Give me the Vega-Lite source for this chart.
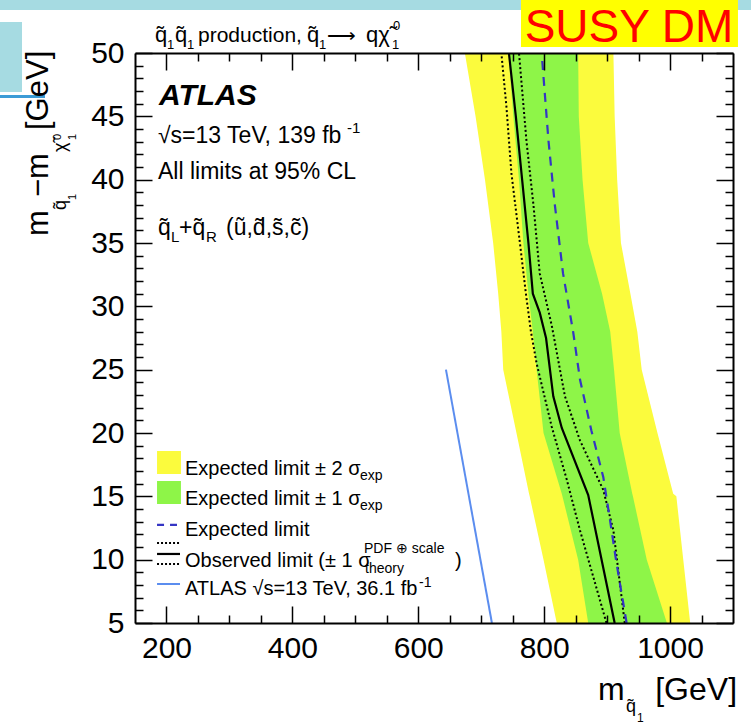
{
  "$schema": "https://vega.github.io/schema/vega-lite/v6.json",
  "width": 598,
  "height": 570,
  "autosize": "none",
  "padding": {"left": 135, "top": 53, "right": 18, "bottom": 102},
  "background": "white",
  "config": {"view": {"stroke": null}, "font": "Liberation Sans"},
  "datasets": {
    "band": [
      {"y": 50, "yl": 674, "gl": 743, "gh": 854, "yh": 910},
      {"y": 45, "yl": 691, "gl": 751, "gh": 855, "yh": 912},
      {"y": 40, "yl": 706, "gl": 760, "gh": 861, "yh": 916},
      {"y": 35, "yl": 719, "gl": 767, "gh": 870, "yh": 922},
      {"y": 31, "yl": 727, "gl": 775, "gh": 892, "yh": 937},
      {"y": 28, "yl": 732, "gl": 782, "gh": 905, "yh": 948},
      {"y": 25, "yl": 735, "gl": 788, "gh": 911, "yh": 955},
      {"y": 20, "yl": 756, "gl": 799, "gh": 920, "yh": 980},
      {"y": 15.2, "yl": 776, "gl": 828, "gh": 940, "yh": 1005},
      {"y": 15, "yl": 777, "gl": 829, "gh": 941, "yh": 1010},
      {"y": 10, "yl": 799, "gl": 854, "gh": 963, "yh": 1021},
      {"y": 5, "yl": 820, "gl": 870, "gh": 995, "yh": 1032}
    ],
    "lines": [
      {"s": "obs", "x": 744, "y": 50}, {"s": "obs", "x": 755, "y": 45}, {"s": "obs", "x": 765, "y": 40},
      {"s": "obs", "x": 775, "y": 35}, {"s": "obs", "x": 782, "y": 31}, {"s": "obs", "x": 793, "y": 29.5},
      {"s": "obs", "x": 803, "y": 27.5}, {"s": "obs", "x": 814.5, "y": 22.9}, {"s": "obs", "x": 828, "y": 20.4},
      {"s": "obs", "x": 870, "y": 15.1}, {"s": "obs", "x": 912, "y": 5},
      {"s": "lo", "x": 732, "y": 50}, {"s": "lo", "x": 740, "y": 45.8}, {"s": "lo", "x": 748, "y": 40.5},
      {"s": "lo", "x": 761, "y": 35.2}, {"s": "lo", "x": 771, "y": 31}, {"s": "lo", "x": 779, "y": 28},
      {"s": "lo", "x": 788, "y": 25.5}, {"s": "lo", "x": 812, "y": 20.5}, {"s": "lo", "x": 836, "y": 16.3},
      {"s": "lo", "x": 857, "y": 12.3}, {"s": "lo", "x": 899, "y": 5},
      {"s": "hi", "x": 760, "y": 50}, {"s": "hi", "x": 772, "y": 43}, {"s": "hi", "x": 783, "y": 38},
      {"s": "hi", "x": 793, "y": 32.6}, {"s": "hi", "x": 812, "y": 28.5}, {"s": "hi", "x": 833, "y": 22.9},
      {"s": "hi", "x": 857, "y": 19.4}, {"s": "hi", "x": 894, "y": 15.5}, {"s": "hi", "x": 910, "y": 12.3},
      {"s": "hi", "x": 928, "y": 5},
      {"s": "exp", "x": 796, "y": 50}, {"s": "exp", "x": 807, "y": 43}, {"s": "exp", "x": 817, "y": 38},
      {"s": "exp", "x": 830, "y": 32.6}, {"s": "exp", "x": 846, "y": 28}, {"s": "exp", "x": 857, "y": 24.2},
      {"s": "exp", "x": 875, "y": 20.2}, {"s": "exp", "x": 894, "y": 16.5}, {"s": "exp", "x": 905, "y": 13},
      {"s": "exp", "x": 915, "y": 9.7}, {"s": "exp", "x": 931, "y": 5},
      {"s": "old", "x": 644, "y": 25}, {"s": "old", "x": 717, "y": 5}
    ],
    "legbox": [
      {"s": "y2", "x": 185, "x2": 223, "y": 18.58, "y2": 16.76},
      {"s": "g1", "x": 185, "x2": 223, "y": 16.21, "y2": 14.39}
    ],
    "legline": [
      {"s": "exp", "x": 185, "x2": 216.7, "y": 12.74},
      {"s": "lo", "x": 185, "x2": 221.5, "y": 11.32},
      {"s": "obs", "x": 185, "x2": 221.5, "y": 10.45},
      {"s": "lo", "x": 185, "x2": 221.5, "y": 9.66},
      {"s": "old", "x": 185, "x2": 221.5, "y": 8.08}
    ],
    "deco": [
      {"s": "cyan", "x": -64.5, "x2": 1128.6, "y": 54.18, "y2": 53.4},
      {"s": "cyan", "x": -64.5, "x2": -29.5, "y": 52.45, "y2": 46.92},
      {"s": "blue", "x": -64.5, "x2": 7.0, "y": 46.68, "y2": 46.45},
      {"s": "box", "x": 763.2, "x2": 1107.9, "y": 54.18, "y2": 50.47}
    ],
    "txt": [
      {"g": "t22", "t": "q\u0303", "x": 181.8, "y": 50.87},
      {"g": "t22", "t": "q\u0303", "x": 213.5, "y": 50.87},
      {"g": "t21", "t": "production,", "x": 250.1, "y": 50.87},
      {"g": "t22", "t": "q\u0303", "x": 423.2, "y": 50.87},
      {"g": "leg", "t": "\u27f6", "x": 455.0, "y": 50.87},
      {"g": "t22", "t": "q\u03c7\u0303", "x": 517.0, "y": 50.87},
      {"g": "t13", "t": "1", "x": 200.8, "y": 50.32},
      {"g": "t13", "t": "1", "x": 232.6, "y": 50.32},
      {"g": "t13", "t": "1", "x": 442.3, "y": 50.32},
      {"g": "t13", "t": "1", "x": 558.3, "y": 50.32},
      {"g": "t13", "t": "0", "x": 559.9, "y": 51.82},
      {"g": "atlas", "t": "ATLAS", "x": 188.1, "y": 45.89},
      {"g": "t23", "t": "\u221as=13 TeV, 139 fb", "x": 186.5, "y": 42.89},
      {"g": "t23", "t": "All limits at 95% CL", "x": 186.5, "y": 40.05},
      {"g": "t23", "t": "q\u0303", "x": 186.5, "y": 35.63},
      {"g": "t23", "t": "+q\u0303", "x": 219.9, "y": 35.63},
      {"g": "t23", "t": "(u\u0303,d\u0303,s\u0303,c\u0303)", "x": 294.6, "y": 35.63},
      {"g": "s15", "t": "-1", "x": 486.8, "y": 43.68},
      {"g": "s15", "t": "L", "x": 207.2, "y": 35.08},
      {"g": "s15", "t": "R", "x": 262.8, "y": 35.08},
      {"g": "leg", "t": "Expected limit \u00b1 2 \u03c3", "x": 229.4, "y": 16.68},
      {"g": "leg", "t": "Expected limit \u00b1 1 \u03c3", "x": 229.4, "y": 14.32},
      {"g": "leg", "t": "Expected limit", "x": 229.4, "y": 11.87},
      {"g": "leg", "t": "Observed limit (\u00b1 1 \u03c3", "x": 229.4, "y": 9.42},
      {"g": "leg", "t": ")", "x": 658.3, "y": 9.42},
      {"g": "leg", "t": "ATLAS \u221as=13 TeV, 36.1 fb", "x": 229.4, "y": 7.21},
      {"g": "ls", "t": "exp", "x": 507.4, "y": 16.29},
      {"g": "ls", "t": "exp", "x": 507.4, "y": 13.92},
      {"g": "ls", "t": "PDF \u2295 scale", "x": 513.8, "y": 10.53},
      {"g": "ls", "t": "theory", "x": 515.4, "y": 8.95},
      {"g": "ls", "t": "-1", "x": 601.2, "y": 7.84},
      {"g": "x32", "t": "m", "x": 885.5, "y": -1.08},
      {"g": "x32r", "t": "[GeV]", "x": 1106.4, "y": -1.08},
      {"g": "xs18", "t": "q\u0303", "x": 929.9, "y": -2.03},
      {"g": "xs12", "t": "1", "x": 947.4, "y": -2.82},
      {"g": "y31", "t": "m", "x": 11.8, "y": 35.55},
      {"g": "y31", "t": "\u2212m", "x": 11.8, "y": 38.63},
      {"g": "y31", "t": "[GeV]", "x": 11.8, "y": 43.92},
      {"g": "ys18", "t": "q\u0303", "x": 40.4, "y": 37.61},
      {"g": "ys18", "t": "\u03c7\u0303", "x": 40.4, "y": 42.18},
      {"g": "ys11", "t": "1", "x": 56.3, "y": 38.39},
      {"g": "ys11", "t": "1", "x": 56.3, "y": 43.13},
      {"g": "ys11", "t": "0", "x": 32.4, "y": 43.13},
      {"g": "susy", "t": "SUSY DM", "x": 934.8, "y": 50.87}
    ]
  },
  "encoding": {
    "x": {"field": "x", "type": "quantitative", "scale": {"domain": [150, 1100], "nice": false, "zero": false}, "axis": null},
    "y": {"field": "y", "type": "quantitative", "scale": {"domain": [5, 50], "nice": false, "zero": false}, "axis": null}
  },
  "layer": [
    {
      "data": {"name": "deco"},
      "transform": [{"filter": "datum.s == 'cyan'"}],
      "mark": {"type": "rect", "color": "#a6dbe2"},
      "encoding": {"x2": {"field": "x2"}, "y2": {"field": "y2"}}
    },
    {
      "data": {"name": "deco"},
      "transform": [{"filter": "datum.s == 'blue'"}],
      "mark": {"type": "rect", "color": "#3b9bd6"},
      "encoding": {"x2": {"field": "x2"}, "y2": {"field": "y2"}}
    },
    {
      "data": {"name": "deco"},
      "transform": [{"filter": "datum.s == 'box'"}],
      "mark": {"type": "rect", "color": "#ffff00"},
      "encoding": {"x2": {"field": "x2"}, "y2": {"field": "y2"}}
    },
    {
      "data": {"name": "band"},
      "mark": {"type": "area", "orient": "horizontal", "color": "#fbfb3d", "opacity": 1},
      "encoding": {
        "x": {"field": "yl", "type": "quantitative", "scale": {"domain": [150, 1100], "nice": false, "zero": false},
          "axis": {"orient": "bottom", "values": [200, 400, 600, 800, 1000], "format": "d", "tickSize": -17, "tickWidth": 1.5, "tickColor": "#000", "domain": true, "domainColor": "#000", "domainWidth": 2, "labelFont": "Liberation Sans", "labelFontSize": 30, "labelColor": "#000", "labelPadding": 27, "labelFlush": false, "labelOverlap": false, "grid": false, "title": null, "zindex": 1}},
        "x2": {"field": "yh"},
        "y": {"field": "y", "type": "quantitative", "scale": {"domain": [5, 50], "nice": false, "zero": false},
          "axis": {"orient": "left", "values": [5, 10, 15, 20, 25, 30, 35, 40, 45, 50], "format": "d", "tickSize": -17, "tickWidth": 1.5, "tickColor": "#000", "domain": true, "domainColor": "#000", "domainWidth": 2, "labelFont": "Liberation Sans", "labelFontSize": 30, "labelColor": "#000", "labelPadding": 28, "labelFlush": false, "labelOverlap": false, "grid": false, "title": null, "zindex": 1}}
      }
    },
    {
      "data": {"name": "band"},
      "mark": {"type": "area", "orient": "horizontal", "color": "#8ef548", "opacity": 1},
      "encoding": {
        "x": {"field": "gl", "type": "quantitative", "scale": {"domain": [150, 1100], "nice": false, "zero": false},
          "axis": {"orient": "top", "values": [200, 400, 600, 800, 1000], "tickSize": -17, "tickWidth": 1.5, "tickColor": "#000", "domain": true, "domainColor": "#000", "domainWidth": 2, "labels": false, "grid": false, "title": null, "zindex": 1}},
        "x2": {"field": "gh"},
        "y": {"field": "y", "type": "quantitative", "scale": {"domain": [5, 50], "nice": false, "zero": false},
          "axis": {"orient": "right", "values": [5, 10, 15, 20, 25, 30, 35, 40, 45, 50], "tickSize": -17, "tickWidth": 1.5, "tickColor": "#000", "domain": true, "domainColor": "#000", "domainWidth": 2, "labels": false, "grid": false, "title": null, "zindex": 1}}
      }
    },
    {
      "data": {"name": "lines"},
      "transform": [{"filter": "datum.s == 'lo' || datum.s == 'hi'"}],
      "mark": {"type": "line", "color": "#000", "strokeWidth": 2, "strokeDash": [2, 2.5]},
      "encoding": {
        "x": {"field": "x", "type": "quantitative", "scale": {"domain": [150, 1100], "nice": false, "zero": false},
          "axis": {"orient": "bottom", "values": [250, 300, 350, 450, 500, 550, 650, 700, 750, 850, 900, 950, 1050], "tickSize": -8, "tickWidth": 1.5, "tickColor": "#000", "domain": false, "labels": false, "grid": false, "title": null, "zindex": 1}},
        "y": {"field": "y", "type": "quantitative", "scale": {"domain": [5, 50], "nice": false, "zero": false},
          "axis": {"orient": "left", "values": [6, 7, 8, 9, 11, 12, 13, 14, 16, 17, 18, 19, 21, 22, 23, 24, 26, 27, 28, 29, 31, 32, 33, 34, 36, 37, 38, 39, 41, 42, 43, 44, 46, 47, 48, 49], "tickSize": -8, "tickWidth": 1.5, "tickColor": "#000", "domain": false, "labels": false, "grid": false, "title": null, "zindex": 1}},
        "detail": {"field": "s"},
        "order": {"field": "y", "type": "quantitative"}
      }
    },
    {
      "data": {"name": "lines"},
      "transform": [{"filter": "datum.s == 'obs'"}],
      "mark": {"type": "line", "color": "#000", "strokeWidth": 2.2},
      "encoding": {
        "x": {"field": "x", "type": "quantitative", "scale": {"domain": [150, 1100], "nice": false, "zero": false},
          "axis": {"orient": "top", "values": [250, 300, 350, 450, 500, 550, 650, 700, 750, 850, 900, 950, 1050], "tickSize": -8, "tickWidth": 1.5, "tickColor": "#000", "domain": false, "labels": false, "grid": false, "title": null, "zindex": 1}},
        "y": {"field": "y", "type": "quantitative", "scale": {"domain": [5, 50], "nice": false, "zero": false},
          "axis": {"orient": "right", "values": [6, 7, 8, 9, 11, 12, 13, 14, 16, 17, 18, 19, 21, 22, 23, 24, 26, 27, 28, 29, 31, 32, 33, 34, 36, 37, 38, 39, 41, 42, 43, 44, 46, 47, 48, 49], "tickSize": -8, "tickWidth": 1.5, "tickColor": "#000", "domain": false, "labels": false, "grid": false, "title": null, "zindex": 1}},
        "order": {"field": "y", "type": "quantitative"}
      }
    },
    {
      "data": {"name": "lines"},
      "transform": [{"filter": "datum.s == 'exp'"}],
      "mark": {"type": "line", "color": "#3535c4", "strokeWidth": 2.2, "strokeDash": [9, 7]},
      "encoding": {"order": {"field": "y", "type": "quantitative"}}
    },
    {
      "data": {"name": "lines"},
      "transform": [{"filter": "datum.s == 'old'"}],
      "mark": {"type": "line", "color": "#5b8def", "strokeWidth": 2},
      "encoding": {"order": {"field": "y", "type": "quantitative"}}
    },
    {
      "data": {"name": "legbox"},
      "transform": [{"filter": "datum.s == 'y2'"}],
      "mark": {"type": "rect", "color": "#fbfb3d"},
      "encoding": {"x2": {"field": "x2"}, "y2": {"field": "y2"}}
    },
    {
      "data": {"name": "legbox"},
      "transform": [{"filter": "datum.s == 'g1'"}],
      "mark": {"type": "rect", "color": "#8ef548"},
      "encoding": {"x2": {"field": "x2"}, "y2": {"field": "y2"}}
    },
    {
      "data": {"name": "legline"},
      "transform": [{"filter": "datum.s == 'exp'"}],
      "mark": {"type": "rule", "color": "#3535c4", "strokeWidth": 2.2, "strokeDash": [7, 6]},
      "encoding": {"x2": {"field": "x2"}}
    },
    {
      "data": {"name": "legline"},
      "transform": [{"filter": "datum.s == 'lo'"}],
      "mark": {"type": "rule", "color": "#000", "strokeWidth": 2, "strokeDash": [2, 2]},
      "encoding": {"x2": {"field": "x2"}}
    },
    {
      "data": {"name": "legline"},
      "transform": [{"filter": "datum.s == 'obs'"}],
      "mark": {"type": "rule", "color": "#000", "strokeWidth": 2.2},
      "encoding": {"x2": {"field": "x2"}}
    },
    {
      "data": {"name": "legline"},
      "transform": [{"filter": "datum.s == 'old'"}],
      "mark": {"type": "rule", "color": "#5b8def", "strokeWidth": 2},
      "encoding": {"x2": {"field": "x2"}}
    },
    {
      "data": {"name": "txt"},
      "transform": [{"filter": "datum.g == 't22'"}],
      "mark": {"type": "text", "align": "left", "baseline": "alphabetic", "fontSize": 22, "color": "#000"},
      "encoding": {"text": {"field": "t"}}
    },
    {
      "data": {"name": "txt"},
      "transform": [{"filter": "datum.g == 't21'"}],
      "mark": {"type": "text", "align": "left", "baseline": "alphabetic", "fontSize": 21, "color": "#000"},
      "encoding": {"text": {"field": "t"}}
    },
    {
      "data": {"name": "txt"},
      "transform": [{"filter": "datum.g == 't13'"}],
      "mark": {"type": "text", "align": "left", "baseline": "alphabetic", "fontSize": 13, "color": "#000"},
      "encoding": {"text": {"field": "t"}}
    },
    {
      "data": {"name": "txt"},
      "transform": [{"filter": "datum.g == 'atlas'"}],
      "mark": {"type": "text", "align": "left", "baseline": "alphabetic", "fontSize": 30, "fontWeight": "bold", "fontStyle": "italic", "color": "#000"},
      "encoding": {"text": {"field": "t"}}
    },
    {
      "data": {"name": "txt"},
      "transform": [{"filter": "datum.g == 't23'"}],
      "mark": {"type": "text", "align": "left", "baseline": "alphabetic", "fontSize": 23, "color": "#000"},
      "encoding": {"text": {"field": "t"}}
    },
    {
      "data": {"name": "txt"},
      "transform": [{"filter": "datum.g == 'leg'"}],
      "mark": {"type": "text", "align": "left", "baseline": "alphabetic", "fontSize": 20, "color": "#000"},
      "encoding": {"text": {"field": "t"}}
    },
    {
      "data": {"name": "txt"},
      "transform": [{"filter": "datum.g == 's15'"}],
      "mark": {"type": "text", "align": "left", "baseline": "alphabetic", "fontSize": 15, "color": "#000"},
      "encoding": {"text": {"field": "t"}}
    },
    {
      "data": {"name": "txt"},
      "transform": [{"filter": "datum.g == 'ls'"}],
      "mark": {"type": "text", "align": "left", "baseline": "alphabetic", "fontSize": 14, "color": "#000"},
      "encoding": {"text": {"field": "t"}}
    },
    {
      "data": {"name": "txt"},
      "transform": [{"filter": "datum.g == 'x32'"}],
      "mark": {"type": "text", "align": "left", "baseline": "alphabetic", "fontSize": 32, "color": "#000"},
      "encoding": {"text": {"field": "t"}}
    },
    {
      "data": {"name": "txt"},
      "transform": [{"filter": "datum.g == 'x32r'"}],
      "mark": {"type": "text", "align": "right", "baseline": "alphabetic", "fontSize": 32, "color": "#000"},
      "encoding": {"text": {"field": "t"}}
    },
    {
      "data": {"name": "txt"},
      "transform": [{"filter": "datum.g == 'xs18'"}],
      "mark": {"type": "text", "align": "left", "baseline": "alphabetic", "fontSize": 18, "color": "#000"},
      "encoding": {"text": {"field": "t"}}
    },
    {
      "data": {"name": "txt"},
      "transform": [{"filter": "datum.g == 'xs12'"}],
      "mark": {"type": "text", "align": "left", "baseline": "alphabetic", "fontSize": 12, "color": "#000"},
      "encoding": {"text": {"field": "t"}}
    },
    {
      "data": {"name": "txt"},
      "transform": [{"filter": "datum.g == 'y31'"}],
      "mark": {"type": "text", "align": "left", "baseline": "alphabetic", "fontSize": 31, "angle": 270, "color": "#000"},
      "encoding": {"text": {"field": "t"}}
    },
    {
      "data": {"name": "txt"},
      "transform": [{"filter": "datum.g == 'ys18'"}],
      "mark": {"type": "text", "align": "left", "baseline": "alphabetic", "fontSize": 18, "angle": 270, "color": "#000"},
      "encoding": {"text": {"field": "t"}}
    },
    {
      "data": {"name": "txt"},
      "transform": [{"filter": "datum.g == 'ys11'"}],
      "mark": {"type": "text", "align": "left", "baseline": "alphabetic", "fontSize": 11, "angle": 270, "color": "#000"},
      "encoding": {"text": {"field": "t"}}
    },
    {
      "data": {"name": "txt"},
      "transform": [{"filter": "datum.g == 'susy'"}],
      "mark": {"type": "text", "align": "center", "baseline": "alphabetic", "fontSize": 46, "color": "#ff0000"},
      "encoding": {"text": {"field": "t"}}
    }
  ],
  "resolve": {"axis": {"x": "independent", "y": "independent"}}
}
